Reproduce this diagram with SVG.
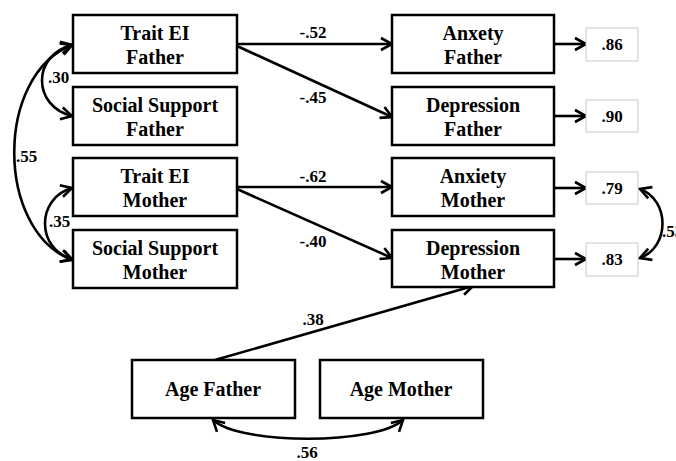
<svg xmlns="http://www.w3.org/2000/svg" width="676" height="461" viewBox="0 0 676 461">
<defs>
<marker id="ah" markerUnits="userSpaceOnUse" markerWidth="16" markerHeight="16" refX="12" refY="7" orient="auto-start-reverse" viewBox="0 0 16 14">
<path d="M1,1 L12,7 L1,13" fill="none" stroke="#000" stroke-width="2.6"/>
</marker>
<style>
.box{fill:#fff;stroke:#000;stroke-width:2.5}
.res{fill:#fff;stroke:#c8c8c8;stroke-width:1}
.t{font-family:"Liberation Serif","Times New Roman",serif;font-weight:bold;font-size:20px;text-anchor:middle;fill:#000}
.l{font-family:"Liberation Serif","Times New Roman",serif;font-weight:bold;font-size:17px;fill:#000}
.c{fill:none;stroke:#000;stroke-width:2.6}
</style>
</defs>
<rect width="676" height="461" fill="#fff"/>
<g id="connectors">
<path class="c" d="M237,44 L392,44" marker-end="url(#ah)"/>
<path class="c" d="M237,46 L392,117" marker-end="url(#ah)"/>
<path class="c" d="M237,187 L392,187" marker-end="url(#ah)"/>
<path class="c" d="M237,189 L392,258" marker-end="url(#ah)"/>
<path class="c" d="M554,44 L586,44" marker-end="url(#ah)"/>
<path class="c" d="M554,116 L586,116" marker-end="url(#ah)"/>
<path class="c" d="M554,188 L586,188" marker-end="url(#ah)"/>
<path class="c" d="M554,259 L586,259" marker-end="url(#ah)"/>
<path class="c" d="M215,360 L473,286" marker-end="url(#ah)"/>
<path class="c" d="M72,45 C32,55 32,106 72,116" marker-start="url(#ah)" marker-end="url(#ah)"/>
<path class="c" d="M72,45 C-5,75 -5,230 72,260" marker-start="url(#ah)" marker-end="url(#ah)"/>
<path class="c" d="M72,188 C36,198 36,249 72,259" marker-start="url(#ah)" marker-end="url(#ah)"/>
<path class="c" d="M640,189 C670,200 670,247 640,258" marker-start="url(#ah)" marker-end="url(#ah)"/>
<path class="c" d="M213,420 C240,445 376,445 403,420" marker-start="url(#ah)" marker-end="url(#ah)"/>
<text class="l" x="313" y="38" text-anchor="middle">-.52</text>
<text class="l" x="313" y="103" text-anchor="middle">-.45</text>
<text class="l" x="313" y="182" text-anchor="middle">-.62</text>
<text class="l" x="313" y="247" text-anchor="middle">-.40</text>
<text class="l" x="313" y="325" text-anchor="middle">.38</text>
<text class="l" x="307" y="458" text-anchor="middle">.56</text>
<text class="l" x="48" y="83">.30</text>
<text class="l" x="16" y="162">.55</text>
<text class="l" x="49" y="227">.35</text>
<text class="l" x="662" y="237">.53</text>
</g>
<g id="traitEIFather"><rect class="box" x="73" y="15" width="164" height="58"/><text class="t" x="155" y="40">Trait EI</text><text class="t" x="155" y="64">Father</text></g>
<g id="socialSupportFather"><rect class="box" x="73" y="87" width="164" height="58"/><text class="t" x="155" y="112">Social Support</text><text class="t" x="155" y="136">Father</text></g>
<g id="traitEIMother"><rect class="box" x="73" y="158" width="164" height="58"/><text class="t" x="155" y="183">Trait EI</text><text class="t" x="155" y="207">Mother</text></g>
<g id="socialSupportMother"><rect class="box" x="73" y="230" width="164" height="58"/><text class="t" x="155" y="255">Social Support</text><text class="t" x="155" y="279">Mother</text></g>
<g id="anxietyFather"><rect class="box" x="392" y="15" width="162" height="58"/><text class="t" x="473" y="40">Anxety</text><text class="t" x="473" y="64">Father</text></g>
<g id="depressionFather"><rect class="box" x="392" y="87" width="162" height="58"/><text class="t" x="473" y="112">Depression</text><text class="t" x="473" y="136">Father</text></g>
<g id="anxietyMother"><rect class="box" x="392" y="158" width="162" height="58"/><text class="t" x="473" y="183">Anxiety</text><text class="t" x="473" y="207">Mother</text></g>
<g id="depressionMother"><rect class="box" x="392" y="230" width="162" height="57"/><text class="t" x="473" y="255">Depression</text><text class="t" x="473" y="279">Mother</text></g>
<g id="res86"><rect class="res" x="586" y="28" width="52" height="33"/><text class="l" x="612" y="50" text-anchor="middle">.86</text></g>
<g id="res90"><rect class="res" x="586" y="100" width="52" height="32"/><text class="l" x="612" y="122" text-anchor="middle">.90</text></g>
<g id="res79"><rect class="res" x="586" y="172" width="52" height="32"/><text class="l" x="612" y="194" text-anchor="middle">.79</text></g>
<g id="res83"><rect class="res" x="586" y="243" width="52" height="33"/><text class="l" x="612" y="265" text-anchor="middle">.83</text></g>
<g id="ageFather"><rect class="box" x="132" y="360" width="163" height="58"/><text class="t" x="213" y="396">Age Father</text></g>
<g id="ageMother"><rect class="box" x="320" y="360" width="163" height="58"/><text class="t" x="401" y="396">Age Mother</text></g>
</svg>
